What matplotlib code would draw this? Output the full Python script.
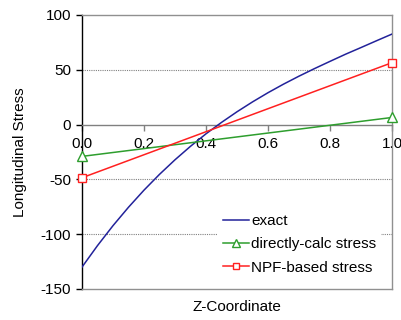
import matplotlib
matplotlib.use("Agg")
import matplotlib.pyplot as plt
from matplotlib.lines import Line2D

plt.rcParams['font.family'] = ['Liberation Sans', 'DejaVu Sans']
plt.rcParams['axes.unicode_minus'] = False

# data
z_exact = [0.0, 0.05, 0.1, 0.15, 0.2, 0.25, 0.3, 0.35, 0.4, 0.45, 0.5,
           0.55, 0.6, 0.65, 0.7, 0.75, 0.8, 0.85, 0.9, 0.95, 1.0]
exact = [-130, -110.4, -92.2, -75.4, -59.8, -45.4, -32.1, -19.8, -8.4, 2.0, 11.7,
         20.7, 29.1, 36.9, 44.2, 51.1, 57.7, 64.2, 70.3, 76.5, 82.6]
z_pts = [0.0, 1.0]
direct = [-29, 6.5]
npf = [-48.5, 56.5]

x_ticks = [0.0, 0.2, 0.4, 0.6, 0.8, 1.0]
x_tick_labels = ["0.0", "0.2", "0.4", "0.6", "0.8", "1.0"]
y_ticks = [-150, -100, -50, 0, 50, 100]

fig = plt.figure(figsize=(4.02, 3.2), dpi=100)
ax = fig.add_axes([82/402, 1-289/320, (392-82)/402, (289-15)/320])

blue = '#22229a'
green = '#2e9e2e'
red = '#ff2020'

for yv in [-100, -50, 50]:
    ax.axhline(yv, color='#808080', lw=0.8, ls=(0, (1, 1)), zorder=1)

ax.plot(z_exact, exact, color=blue, lw=1.1, zorder=3)
ax.plot(z_pts, direct, color=green, lw=1.1, marker='^', ms=7, mfc='white',
        mec=green, mew=1.0, clip_on=False, zorder=4)
ax.plot(z_pts, npf, color=red, lw=1.1, marker='s', ms=6, mfc='white',
        mec=red, mew=1.0, clip_on=False, zorder=4)

ax.set_xlim(0, 1)
ax.set_ylim(-150, 100)
ax.set_xticks(x_ticks)
ax.set_xticklabels(x_tick_labels)
ax.set_yticks(y_ticks)

ax.spines['bottom'].set_position(('data', 0))
ax.spines['bottom'].set_color('#808080')
ax.spines['bottom'].set_linewidth(1.0)
ax.spines['left'].set_color('black')
ax.spines['left'].set_linewidth(1.0)
for s in ['top', 'right']:
    ax.spines[s].set_color('#909090')
    ax.spines[s].set_linewidth(1.0)
ax.plot([0, 1], [0, 0], transform=ax.transAxes, color='#909090', lw=1.0,
        clip_on=False, zorder=5)

ax.tick_params(axis='x', direction='out', length=4, width=1.0, color='#808080',
               labelsize=11, pad=5)
ax.tick_params(axis='y', direction='out', length=4, width=1.0, color='black',
               labelsize=11, pad=4)

ax.set_ylabel('Longitudinal Stress', fontsize=11)
ax.yaxis.set_label_coords(-0.177, 0.5)
ax.set_xlabel('Z-Coordinate', fontsize=11)
ax.xaxis.set_label_coords(0.5, -0.04)

handles = [
    Line2D([], [], color=blue, lw=1.1),
    Line2D([], [], color=green, lw=1.1, marker='^', ms=6, mfc='white', mec=green),
    Line2D([], [], color=red, lw=1.1, marker='s', ms=5, mfc='white', mec=red),
]
leg = ax.legend(handles, ['exact', 'directly-calc stress', 'NPF-based stress'],
                loc='lower right', bbox_to_anchor=(0.964, 0.036), frameon=True,
                fontsize=11, handlelength=1.7, handletextpad=0.15,
                labelspacing=0.6, borderpad=0.3, borderaxespad=0)
leg.get_frame().set_edgecolor('none')
leg.get_frame().set_facecolor('white')
leg.get_frame().set_alpha(1.0)
leg.set_zorder(6)

fig.savefig('out.png', dpi=100)
